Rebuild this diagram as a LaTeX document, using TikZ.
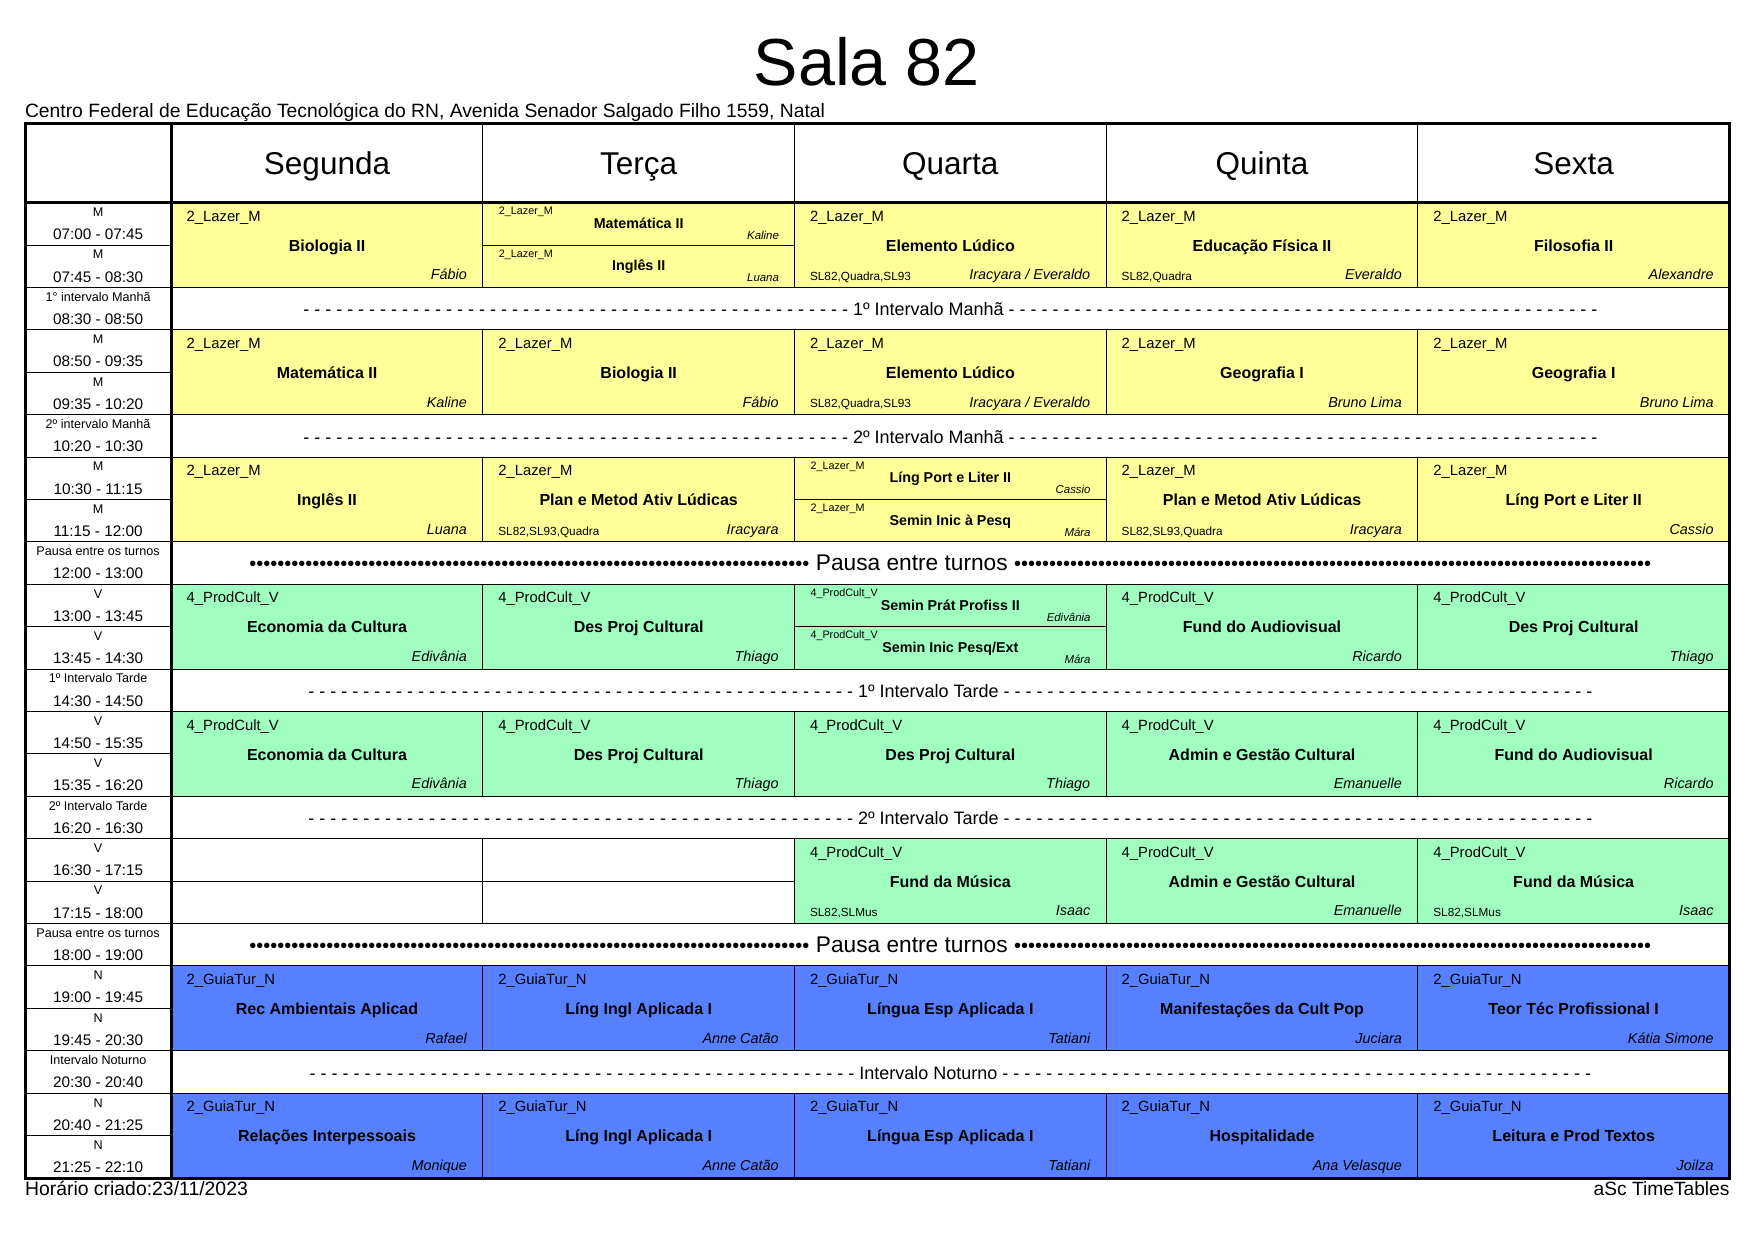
\documentclass[tikz,border=0pt]{standalone}
\usepackage{fontspec}
\setmainfont{Liberation Sans}
\ExplSyntaxOn
\NewDocumentCommand\myrep{mm}{\prg_replicate:nn{#1}{#2}}
\ExplSyntaxOff
\definecolor{cy}{RGB}{255,255,153}
\definecolor{cg}{RGB}{160,255,192}
\definecolor{cb}{RGB}{86,128,255}
\newcommand\LM{2\_Lazer\_M}
\newcommand\PV{4\_ProdCult\_V}
\newcommand\GN{2\_GuiaTur\_N}
\newcommand\bul[1]{{\fontsize{20}{20}\selectfont\myrep{#1}{•}}}
\tikzset{
  every node/.style={inner sep=0pt, outer sep=0pt},
  thinl/.style={line width=1pt, black},
  thickl/.style={line width=3pt, black},
  grp/.style={anchor=base west, font=\fontsize{14.8}{17}\selectfont},
  subj/.style={anchor=base, font=\fontsize{16}{18}\selectfont\bfseries},
  teach/.style={anchor=base east, font=\fontsize{14.4}{17}\selectfont\itshape},
  roomst/.style={anchor=base west, font=\fontsize{11.8}{14}\selectfont},
  sgrp/.style={anchor=base west, font=\fontsize{10.8}{12}\selectfont},
  ssubj/.style={anchor=base, font=\fontsize{14.3}{16}\selectfont\bfseries},
  steach/.style={anchor=base east, font=\fontsize{11.4}{13}\selectfont\itshape},
  tlab/.style={anchor=base, font=\fontsize{12.6}{14}\selectfont},
  ttime/.style={anchor=base, font=\fontsize{15.3}{17}\selectfont},
  ivtext/.style={anchor=base, font=\fontsize{18}{20}\selectfont},
  pausatext/.style={anchor=base, font=\fontsize{22.7}{25}\selectfont},
  dayhead/.style={anchor=base, font=\fontsize{31.5}{34}\selectfont},
}
% col, slot, colour, group, subject, teacher
\newcommand\cell[6]{%
  \pgfmathsetmacro\cx{171.2+#1*311.66}%
  \pgfmathsetmacro\cy{202.6+#2*42.41}%
  \fill[#3] (\cx,\cy) rectangle ++(311.66,84.82);
  \node[grp] (g#1-#2) at (\cx+15.5,\cy+18.5) {#4};
  \node[subj] (s#1-#2) at (\cx+155.83,\cy+48.7) {#5};
  \node[teach] (t#1-#2) at (\cx+295.7,\cy+77.2) {#6};
}
\newcommand\room[3]{%
  \pgfmathsetmacro\cx{171.2+#1*311.66}%
  \pgfmathsetmacro\cy{202.6+#2*42.41}%
  \node[roomst] (r#1-#2) at (\cx+15.5,\cy+78) {#3};
}
\newcommand\half[6]{%
  \pgfmathsetmacro\cx{171.2+#1*311.66}%
  \pgfmathsetmacro\cy{202.6+#2*42.41}%
  \fill[#3] (\cx,\cy) rectangle ++(311.66,42.41);
  \node[sgrp] (g#1-#2) at (\cx+16,\cy+12.2) {#4};
  \node[ssubj] (s#1-#2) at (\cx+155.83,\cy+25.8) {#5};
  \node[steach] (t#1-#2) at (\cx+296,\cy+36.8) {#6};
}
\newcommand\ivrow[2]{%
  \pgfmathsetmacro\cy{202.6+#1*42.41}%
  \node[ivtext] (iv#1) at (950.35,\cy+28.4) {\myrep{50}{-\ }#2\myrep{54}{\ -}};
}
\newcommand\pausarow[1]{%
  \pgfmathsetmacro\cy{202.6+#1*42.41}%
  \node[pausatext] (iv#1) at (950.35,\cy+28.9) {\bul{80}\ Pausa entre turnos\ \bul{91}};
}
\begin{document}
\begin{tikzpicture}[x=1pt,y=-1pt]
\useasboundingbox (0,0) rectangle (1755,1241);
\fill[white] (0,0) rectangle (1755,1241);
% title
\node[anchor=base, font=\fontsize{66.5}{70}\selectfont] (title) at (866.5,85.5) {Sala 82};
\node[anchor=base west, font=\fontsize{19.3}{21}\selectfont] (sub) at (25,117.5) {Centro Federal de Educação Tecnológica do RN, Avenida Senador Salgado Filho 1559, Natal};
% day headers
\foreach \d/\nm in {0/Segunda,1/Terça,2/Quarta,3/Quinta,4/Sexta}{
  \node[dayhead] (day\d) at (171.2+\d*311.66+155.83,175) {\nm};
}
% cells block 0
\cell{0}{0}{cy}{\LM}{Biologia II}{Fábio}
\half{1}{0}{cy}{\LM}{Matemática II}{Kaline}
\half{1}{1}{cy}{\LM}{Inglês II}{Luana}
\cell{2}{0}{cy}{\LM}{Elemento Lúdico}{Iracyara / Everaldo}\room{2}{0}{SL82,Quadra,SL93}
\cell{3}{0}{cy}{\LM}{Educação Física II}{Everaldo}\room{3}{0}{SL82,Quadra}
\cell{4}{0}{cy}{\LM}{Filosofia II}{Alexandre}
% block 1
\cell{0}{3}{cy}{\LM}{Matemática II}{Kaline}
\cell{1}{3}{cy}{\LM}{Biologia II}{Fábio}
\cell{2}{3}{cy}{\LM}{Elemento Lúdico}{Iracyara / Everaldo}\room{2}{3}{SL82,Quadra,SL93}
\cell{3}{3}{cy}{\LM}{Geografia I}{Bruno Lima}
\cell{4}{3}{cy}{\LM}{Geografia I}{Bruno Lima}
% block 2
\cell{0}{6}{cy}{\LM}{Inglês II}{Luana}
\cell{1}{6}{cy}{\LM}{Plan e Metod Ativ Lúdicas}{Iracyara}\room{1}{6}{SL82,SL93,Quadra}
\half{2}{6}{cy}{\LM}{Líng Port e Liter II}{Cassio}
\half{2}{7}{cy}{\LM}{Semin Inic à Pesq}{Mára}
\cell{3}{6}{cy}{\LM}{Plan e Metod Ativ Lúdicas}{Iracyara}\room{3}{6}{SL82,SL93,Quadra}
\cell{4}{6}{cy}{\LM}{Líng Port e Liter II}{Cassio}
% block 3
\cell{0}{9}{cg}{\PV}{Economia da Cultura}{Edivânia}
\cell{1}{9}{cg}{\PV}{Des Proj Cultural}{Thiago}
\half{2}{9}{cg}{\PV}{Semin Prát Profiss II}{Edivânia}
\half{2}{10}{cg}{\PV}{Semin Inic Pesq/Ext}{Mára}
\cell{3}{9}{cg}{\PV}{Fund do Audiovisual}{Ricardo}
\cell{4}{9}{cg}{\PV}{Des Proj Cultural}{Thiago}
% block 4
\cell{0}{12}{cg}{\PV}{Economia da Cultura}{Edivânia}
\cell{1}{12}{cg}{\PV}{Des Proj Cultural}{Thiago}
\cell{2}{12}{cg}{\PV}{Des Proj Cultural}{Thiago}
\cell{3}{12}{cg}{\PV}{Admin e Gestão Cultural}{Emanuelle}
\cell{4}{12}{cg}{\PV}{Fund do Audiovisual}{Ricardo}
% block 5
\cell{2}{15}{cg}{\PV}{Fund da Música}{Isaac}\room{2}{15}{SL82,SLMus}
\cell{3}{15}{cg}{\PV}{Admin e Gestão Cultural}{Emanuelle}
\cell{4}{15}{cg}{\PV}{Fund da Música}{Isaac}\room{4}{15}{SL82,SLMus}
% block 6
\cell{0}{18}{cb}{\GN}{Rec Ambientais Aplicad}{Rafael}
\cell{1}{18}{cb}{\GN}{Líng Ingl Aplicada I}{Anne Catão}
\cell{2}{18}{cb}{\GN}{Língua Esp Aplicada I}{Tatiani}
\cell{3}{18}{cb}{\GN}{Manifestações da Cult Pop}{Juciara}
\cell{4}{18}{cb}{\GN}{Teor Téc Profissional I}{Kátia Simone}
% block 7
\cell{0}{21}{cb}{\GN}{Relações Interpessoais}{Monique}
\cell{1}{21}{cb}{\GN}{Líng Ingl Aplicada I}{Anne Catão}
\cell{2}{21}{cb}{\GN}{Língua Esp Aplicada I}{Tatiani}
\cell{3}{21}{cb}{\GN}{Hospitalidade}{Ana Velasque}
\cell{4}{21}{cb}{\GN}{Leitura e Prod Textos}{Joilza}
% interval rows
\ivrow{2}{1º Intervalo Manhã}
\ivrow{5}{2º Intervalo Manhã}
\pausarow{8}
\ivrow{11}{1º Intervalo Tarde}
\ivrow{14}{2º Intervalo Tarde}
\pausarow{17}
\ivrow{20}{Intervalo Noturno}
% time column
\foreach \s/\lab/\tm in {0/M/07:00 - 07:45, 1/M/07:45 - 08:30, 2/1° intervalo Manhã/08:30 - 08:50,
  3/M/08:50 - 09:35, 4/M/09:35 - 10:20, 5/2º intervalo Manhã/10:20 - 10:30,
  6/M/10:30 - 11:15, 7/M/11:15 - 12:00, 8/Pausa entre os turnos/12:00 - 13:00,
  9/V/13:00 - 13:45, 10/V/13:45 - 14:30, 11/1º Intervalo Tarde/14:30 - 14:50,
  12/V/14:50 - 15:35, 13/V/15:35 - 16:20, 14/2º Intervalo Tarde/16:20 - 16:30,
  15/V/16:30 - 17:15, 16/V/17:15 - 18:00, 17/Pausa entre os turnos/18:00 - 19:00,
  18/N/19:00 - 19:45, 19/N/19:45 - 20:30, 20/Intervalo Noturno/20:30 - 20:40,
  21/N/20:40 - 21:25, 22/N/21:25 - 22:10}{
  \node[tlab] (tl\s) at (98.1,202.6+\s*42.41+13.8) {\lab};
  \node[ttime] (tt\s) at (98.1,202.6+\s*42.41+37) {\tm};
}
% thin horizontal lines
\foreach \s in {2,3,5,6,8,9,11,12,14,15,17,18,20,21}{
  \draw[thinl] (25,202.6+\s*42.41) -- (1729.5,202.6+\s*42.41);
}
\foreach \s in {1,4,7,10,13,16,19,22}{
  \draw[thinl] (25,202.6+\s*42.41) -- (171.2,202.6+\s*42.41);
}
% split-cell and empty-cell middle lines
\draw[thinl] (482.86,202.6+1*42.41) -- (794.52,202.6+1*42.41);
\draw[thinl] (794.52,202.6+7*42.41) -- (1106.18,202.6+7*42.41);
\draw[thinl] (794.52,202.6+10*42.41) -- (1106.18,202.6+10*42.41);
\draw[thinl] (171.2,202.6+16*42.41) -- (794.52,202.6+16*42.41);
% vertical day separators
\foreach \k in {1,2,3,4}{
  \draw[thinl] (171.2+\k*311.66,123.5) -- (171.2+\k*311.66,202.6);
  \foreach \b in {0,3,6,9,12,15,18,21}{
    \draw[thinl] (171.2+\k*311.66,202.6+\b*42.41) -- (171.2+\k*311.66,202.6+\b*42.41+84.82);
  }
}
% thick lines
\draw[thickl] (25,202.6) -- (1729.5,202.6);
\draw[thickl] (171.2,123.5) -- (171.2,1178);
\draw[thickl] (25,123.5) rectangle (1729.5,1178);
% footer
\node[anchor=base west, font=\fontsize{19.4}{21}\selectfont] (foot1) at (25,1195.5) {Horário criado:23/11/2023};
\node[anchor=base east, font=\fontsize{19.2}{21}\selectfont] (foot2) at (1729.5,1195.5) {aSc TimeTables};
\end{tikzpicture}
\end{document}
